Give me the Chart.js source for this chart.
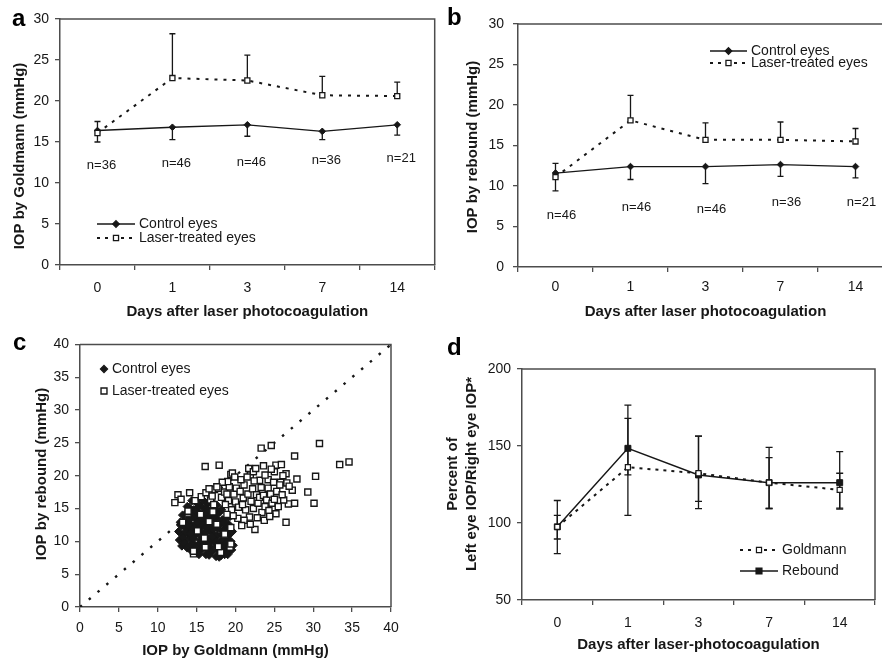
<!DOCTYPE html>
<html><head><meta charset="utf-8">
<script src="https://cdn.jsdelivr.net/npm/chart.js@4.4.0/dist/chart.umd.min.js"></script>
<style>
html,body{margin:0;padding:0;background:#fff;overflow:hidden;width:882px;height:660px;position:relative;}
canvas{position:absolute;}
</style></head><body>
<canvas id="ca" width="440" height="330" style="left:0;top:0"></canvas>
<canvas id="cb" width="460" height="330" style="left:440px;top:0"></canvas>
<canvas id="cc" width="440" height="330" style="left:0;top:330px"></canvas>
<canvas id="cd" width="442" height="330" style="left:440px;top:330px"></canvas>
<script>
// ---------------- data ----------------
const days = ['0', '1', '3', '7', '14'];

// panel a : Goldmann
const goldmannControl   = [16.4, 16.8, 17.1, 16.3, 17.1];
const goldmannControlSD = [1.4, 1.5, 1.4, 1.0, 1.25];
const goldmannLaser     = [16.1, 22.8, 22.5, 20.7, 20.6];
const goldmannLaserSD   = [1.4, 5.4, 3.1, 2.3, 1.7];
const goldmannN         = ['n=36', 'n=46', 'n=46', 'n=36', 'n=21'];
const goldmannNLevel    = [12.1, 12.4, 12.5, 12.8, 13.0];

// panel b : rebound
const reboundControl   = [11.6, 12.4, 12.4, 12.65, 12.4];
const reboundControlSD = [2.2, 1.6, 2.1, 1.45, 1.4];
const reboundLaser     = [11.1, 18.1, 15.7, 15.7, 15.5];
const reboundLaserSD   = [1.7, 3.1, 2.1, 2.2, 1.6];
const reboundN         = ['n=46', 'n=46', 'n=46', 'n=36', 'n=21'];
const reboundNLevel    = [6.4, 7.4, 7.1, 8.0, 8.0];

// panel c : scatter [Goldmann, rebound]
const scatterControl = [
[12.7,11.5],[12.8,10.2],[13.0,12.4],[13.1,9.3],[13.2,11.0],[13.4,13.1],[13.5,10.0],[13.6,12.0],[13.7,14.2],[13.8,9.0],
[13.9,11.3],[14.0,15.2],[14.0,12.8],[14.1,10.5],[14.2,13.8],[14.3,8.6],[14.4,11.8],[14.5,9.7],[14.6,14.8],[14.7,12.4],
[14.8,10.9],[14.9,16.0],[15.0,13.3],[15.0,8.3],[15.1,11.4],[15.2,9.5],[15.3,14.3],[15.4,12.1],[15.5,10.2],[15.6,15.4],
[15.7,8.8],[15.8,13.0],[15.9,11.0],[16.0,9.8],[16.0,14.6],[16.1,12.5],[16.2,8.0],[16.3,10.6],[16.4,15.8],[16.5,13.6],
[16.6,11.7],[16.7,9.2],[16.8,12.9],[16.9,10.1],[17.0,14.2],[17.0,8.5],[17.1,11.2],[17.2,15.0],[17.3,12.3],[17.4,9.7],
[17.5,7.7],[17.5,13.5],[17.6,10.8],[17.7,11.9],[17.8,8.6],[17.9,14.4],[18.0,9.9],[18.0,12.7],[18.1,7.8],[18.2,11.1],
[18.3,13.3],[18.4,8.9],[18.5,10.4],[18.6,12.0],[18.7,9.4],[18.8,11.5],[18.9,8.3],[19.0,10.8],[19.1,12.6],[19.2,9.1],
[19.3,11.2],[19.4,10.0],[19.5,8.7],[15.2,15.7],[14.3,12.0],[16.3,13.9],[15.5,9.0],[16.8,8.4],[14.8,13.8],[17.3,10.3],
[16.1,11.3],[15.4,11.6],[17.8,12.4],[15.9,14.1],[14.6,10.4],[16.6,10.4],[18.3,10.0],[13.9,12.5],[15.6,12.8],[16.9,13.1],
[17.6,9.1],[18.6,8.0],[13.3,10.6],[14.9,9.1],[16.4,9.5],[15.1,12.9],[17.1,11.9],[14.4,14.5],[18.9,9.8],[16.2,15.0],
[13.6,11.4],[15.7,10.7],[17.4,14.8],[16.7,12.2],
[13.2,14.0],[13.8,15.3],[14.4,16.2],[15.0,15.0],[15.8,16.3],[16.5,14.8],[17.0,16.0],[17.6,15.5],[18.2,14.8],[18.8,13.5],
[19.3,13.8],[14.1,13.3],[14.9,14.6],[16.0,13.5],[17.3,13.9],[18.5,12.8],[19.6,11.5],[19.7,9.4],[12.9,12.9],[13.4,9.7],
[14.0,9.3],[15.3,8.0],[16.6,7.9],[17.9,7.6],[19.0,8.0],[16.2,12.0],[17.0,10.7],[15.7,13.6],[14.2,11.2],[18.4,11.6]
];
const scatterLaser = [
[23.3,24.2],[24.6,24.6],[30.8,24.9],[27.6,23.0],[33.4,21.7],[34.6,22.1],[16.1,21.4],[17.9,21.6],[23.6,21.5],[25.2,21.6],
[25.9,21.7],[21.7,21.1],[19.4,20.2],[19.6,20.4],[26.5,20.3],[30.3,19.9],[24.2,19.4],[27.9,19.5],[21.9,20.1],[23.1,19.3],
[29.3,17.5],[30.1,15.8],[27.6,15.8],[26.8,15.7],[26.5,12.9],[22.5,11.8],[27.3,17.8],[26.6,18.9],[26.9,18.4],[25.8,19.0],
[24.8,15.1],[25.2,14.2],[26.2,16.3],[12.6,17.1],[13.0,16.4],[12.2,15.9],[14.1,17.4],[13.2,12.9],[13.9,14.3],[14.6,8.1],
[19.3,9.1],[14.8,16.2],[15.6,16.8],[16.2,17.4],[16.8,16.3],[17.3,17.9],[17.8,18.1],[18.2,16.7],[18.6,17.5],
[19.1,16.2],[19.2,18.3],[19.8,17.2],[20.1,18.1],[20.0,16.0],[20.4,15.2],[20.6,17.6],[21.0,16.6],[21.1,18.6],[21.3,14.8],
[21.6,17.2],[21.8,13.7],[22.0,16.1],[22.2,18.0],[22.3,15.0],[22.4,19.2],[22.7,17.1],[22.9,15.8],[23.1,16.7],[23.3,18.2],
[23.4,14.4],[23.6,17.0],[23.8,15.3],[24.0,16.3],[24.2,18.1],[24.3,14.7],[24.5,17.2],[24.7,15.8],[24.9,19.0],[25.0,16.4],
[25.3,17.6],[25.5,15.3],[25.7,18.6],[26.0,17.1],[20.3,13.5],[19.5,14.8],[18.7,15.6],[21.1,13.2],[21.9,12.6],[20.8,12.4],
[19.7,13.9],[17.2,15.6],[20.7,19.4],[22.3,20.6],[19.0,19.1],[18.3,19.0],[17.6,18.3],[16.6,18.0],[23.8,20.1],
[25.0,20.6],[26.1,20.0],[24.6,21.0],[22.6,21.1],[21.5,19.8],[18.9,17.2],[20.9,15.6],[22.8,13.6],[23.7,13.2],[17.0,16.9],
[19.9,19.8],[24.4,13.8],[14.6,8.5],[16.1,9.1],[18.1,8.3],[19.4,9.6],
[15.1,11.6],[16.6,13.0],[17.6,12.6],[18.6,11.1],[19.4,12.1],[15.5,14.1],[17.1,14.5],[18.9,14.1],[13.9,14.6],[16.0,10.5],
[17.8,9.2]
];

// panel d : percent left/right IOP
const pctGoldmann     = [97.5, 136.2, 132.3, 126.2, 121.5];
const pctGoldmannLow  = [89.6, 104.9, 114.0, 109.4, 109.0];
const pctGoldmannHigh = [105.0, 167.9, 156.4, 142.4, 132.3];
const pctRebound      = [97.5, 148.5, 131.2, 126.2, 126.2];
const pctReboundLow   = [80.1, 131.2, 109.3, 109.4, 109.7];
const pctReboundHigh  = [114.6, 176.5, 156.4, 149.1, 146.3];

// ---------------- style ----------------
const FONT = "'Liberation Sans', Arial, Helvetica, sans-serif";
const INK = '#171717';
const AXIS = '#4d4d4d';
Chart.defaults.font.family = FONT;
Chart.defaults.color = INK;
Chart.defaults.animation = false;

function drawMarker(ctx, style, x, y, r, fill, lw) {
  ctx.save();
  ctx.setLineDash([]);
  ctx.lineWidth = lw || 1.2;
  ctx.strokeStyle = INK;
  ctx.fillStyle = fill;
  ctx.beginPath();
  if (style === 'diamond') {
    ctx.moveTo(x, y - r); ctx.lineTo(x + r, y); ctx.lineTo(x, y + r); ctx.lineTo(x - r, y); ctx.closePath();
  } else {
    const s = r * Math.SQRT1_2;
    ctx.rect(x - s, y - s, 2 * s, 2 * s);
  }
  ctx.fill(); ctx.stroke();
  ctx.restore();
}
function legendRow(ctx, x0, x1, y, line, mk, text, size) {
  ctx.save();
  if (line) {
    ctx.strokeStyle = INK; ctx.lineWidth = line.width; ctx.setLineDash(line.dash || []);
    ctx.beginPath(); ctx.moveTo(x0, y); ctx.lineTo(x1, y); ctx.stroke();
  }
  if (mk) drawMarker(ctx, mk.style, line ? (x0 + x1) / 2 : x0, y, mk.r, mk.fill, mk.lw);
  ctx.setLineDash([]);
  ctx.fillStyle = INK;
  ctx.font = (size || 14) + 'px ' + FONT;
  ctx.textBaseline = 'middle'; ctx.textAlign = 'left';
  ctx.fillText(text, x1 + (line ? 4 : 8), y);
  ctx.restore();
}
function vTitle(ctx, lines, cx, cy, gap) {
  ctx.save();
  ctx.translate(cx, cy);
  ctx.rotate(-Math.PI / 2);
  ctx.font = 'bold 15px ' + FONT;
  ctx.fillStyle = INK;
  ctx.textAlign = 'center'; ctx.textBaseline = 'middle';
  lines.forEach((t, i) => ctx.fillText(t, 0, i * (gap || 19)));
  ctx.restore();
}
function panelLetter(ctx, t, x, y) {
  ctx.save();
  ctx.font = 'bold 24px ' + FONT;
  ctx.fillStyle = '#000';
  ctx.textAlign = 'left'; ctx.textBaseline = 'alphabetic';
  ctx.fillText(t, x, y);
  ctx.restore();
}

const boxPlugin = {
  id: 'box',
  afterDatasetsDraw(chart) {
    const {ctx, chartArea: a} = chart;
    ctx.save();
    ctx.strokeStyle = AXIS; ctx.lineWidth = 1.5;
    ctx.beginPath();
    ctx.moveTo(a.left, a.top); ctx.lineTo(a.right, a.top); ctx.lineTo(a.right, a.bottom);
    ctx.stroke();
    ctx.restore();
  }
};
const errPlugin = {
  id: 'errbars',
  beforeDatasetsDraw(chart) {
    const {ctx} = chart;
    const y = chart.scales.y;
    chart.data.datasets.forEach((ds, di) => {
      if (!ds.errLow) return;
      const meta = chart.getDatasetMeta(di);
      const cap = ds.capHalf || 3;
      ctx.save();
      ctx.strokeStyle = INK; ctx.lineWidth = 1.3; ctx.setLineDash([]);
      meta.data.forEach((pt, i) => {
        const px = pt.x;
        const lo = ds.errLow[i], hi = ds.errHigh[i], v = ds.data[i];
        const y1 = y.getPixelForValue(lo), y2 = y.getPixelForValue(hi);
        ctx.beginPath();
        ctx.moveTo(px, y1); ctx.lineTo(px, y2);
        if (lo < v) { ctx.moveTo(px - cap, y1); ctx.lineTo(px + cap, y1); }
        if (hi > v) { ctx.moveTo(px - cap, y2); ctx.lineTo(px + cap, y2); }
        ctx.stroke();
      });
      ctx.restore();
    });
  }
};

function catX(title, pad, h) {
  return {
    type: 'category', offset: true,
    grid: {offset: true, drawOnChartArea: false, drawTicks: true, tickLength: 5, color: AXIS, lineWidth: 1.3},
    border: {display: true, color: AXIS, width: 1.5},
    ticks: {font: {size: 14}, color: INK, padding: pad, maxRotation: 0, autoSkip: false},
    title: {display: true, text: title, font: {size: 15, weight: 'bold'}, color: INK, padding: {top: 0, bottom: 0}},
    afterFit: s => { s.height = h; }
  };
}
function linY(min, max, step, pad, w) {
  return {
    type: 'linear', min, max,
    grid: {drawOnChartArea: false, drawTicks: true, tickLength: 5, color: AXIS, lineWidth: 1.3},
    border: {display: true, color: AXIS, width: 1.5},
    ticks: {stepSize: step, font: {size: 14}, color: INK, padding: pad},
    afterFit: s => { s.width = w; }
  };
}
const baseOpts = {responsive: false, animation: false, plugins: {legend: {display: false}, tooltip: {enabled: false}}};

const ctrlStyle = {borderColor: INK, borderWidth: 1.3, pointStyle: 'rectRot', pointRadius: 3.3,
  pointBackgroundColor: INK, pointBorderColor: INK, pointBorderWidth: 1, tension: 0, capHalf: 3};
const laserStyle = {borderColor: INK, borderWidth: 2, borderDash: [3, 6], pointStyle: 'rect', pointRadius: 3.6,
  pointBackgroundColor: '#fff', pointBorderColor: INK, pointBorderWidth: 1.3, tension: 0, capHalf: 3};

// ---------------- panel a ----------------
new Chart(document.getElementById('ca'), {
  type: 'line',
  data: {labels: days, datasets: [
    Object.assign({label: 'Laser-treated eyes', data: goldmannLaser,
      errLow: goldmannLaser.slice(), errHigh: goldmannLaser.map((v, i) => v + goldmannLaserSD[i])}, laserStyle),
    Object.assign({label: 'Control eyes', data: goldmannControl,
      errLow: goldmannControl.map((v, i) => v - goldmannControlSD[i]), errHigh: goldmannControl.slice()}, ctrlStyle)
  ]},
  options: Object.assign({}, baseOpts, {
    layout: {padding: {top: 19, right: 5, bottom: 9, left: 0}},
    scales: {x: catX('Days after laser photocoagulation', 10, 56), y: linY(0, 30, 5, 6, 60)}
  }),
  plugins: [errPlugin, boxPlugin, {
    id: 'extrasA',
    afterDraw(chart) {
      const {ctx} = chart; const x = chart.scales.x, y = chart.scales.y;
      panelLetter(ctx, 'a', 12, 26);
      vTitle(ctx, ['IOP by Goldmann (mmHg)'], 20, 156);
      ctx.save(); ctx.font = '13px ' + FONT; ctx.fillStyle = INK; ctx.textAlign = 'center'; ctx.textBaseline = 'middle';
      goldmannN.forEach((t, i) => ctx.fillText(t, x.getPixelForValue(i) + 4, y.getPixelForValue(goldmannNLevel[i])));
      ctx.restore();
      legendRow(ctx, 97, 135, 224, {width: 1.3}, {style: 'diamond', r: 3.3, fill: INK}, 'Control eyes');
      legendRow(ctx, 97, 135, 238, {width: 2, dash: [3, 5]}, {style: 'square', r: 3.6, fill: '#fff', lw: 1.3}, 'Laser-treated eyes');
    }
  }]
});

// ---------------- panel b ----------------
new Chart(document.getElementById('cb'), {
  type: 'line',
  data: {labels: days, datasets: [
    Object.assign({label: 'Laser-treated eyes', data: reboundLaser,
      errLow: reboundLaser.slice(), errHigh: reboundLaser.map((v, i) => v + reboundLaserSD[i])}, laserStyle),
    Object.assign({label: 'Control eyes', data: reboundControl,
      errLow: reboundControl.map((v, i) => v - reboundControlSD[i]), errHigh: reboundControl.slice()}, ctrlStyle)
  ]},
  options: Object.assign({}, baseOpts, {
    layout: {padding: {top: 24, right: 7, bottom: 9, left: 0}},
    scales: {x: catX('Days after laser photocoagulation', 7, 54), y: linY(0, 30, 5, 9, 78)}
  }),
  plugins: [errPlugin, boxPlugin, {
    id: 'extrasB',
    afterDraw(chart) {
      const {ctx} = chart; const x = chart.scales.x, y = chart.scales.y;
      panelLetter(ctx, 'b', 7, 25);
      vTitle(ctx, ['IOP by rebound (mmHg)'], 33, 147);
      ctx.save(); ctx.font = '13px ' + FONT; ctx.fillStyle = INK; ctx.textAlign = 'center'; ctx.textBaseline = 'middle';
      reboundN.forEach((t, i) => ctx.fillText(t, x.getPixelForValue(i) + 6, y.getPixelForValue(reboundNLevel[i])));
      ctx.restore();
      legendRow(ctx, 270, 307, 51, {width: 1.3}, {style: 'diamond', r: 3.3, fill: INK}, 'Control eyes');
      legendRow(ctx, 270, 307, 63, {width: 2, dash: [3, 5]}, {style: 'square', r: 3.6, fill: '#fff', lw: 1.3}, 'Laser-treated eyes');
    }
  }]
});

// ---------------- panel c ----------------
const scatterMin = 0, scatterMax = 40;
new Chart(document.getElementById('cc'), {
  type: 'scatter',
  data: {datasets: [
    {label: 'Laser-treated eyes', data: scatterLaser.map(p => ({x: p[0], y: p[1]})), order: 0,
      pointStyle: 'rect', pointRadius: 4.3, pointBackgroundColor: '#fff', pointBorderColor: INK, pointBorderWidth: 1.4},
    {label: 'Control eyes', data: scatterControl.map(p => ({x: p[0], y: p[1]})), order: 1,
      pointStyle: 'rectRot', pointRadius: 4.2, pointBackgroundColor: INK, pointBorderColor: INK, pointBorderWidth: 1},
    {label: 'identity', data: [scatterMin, scatterMax].map(v => ({x: v, y: v})), order: 2, showLine: true,
      borderColor: INK, borderWidth: 2.4, borderDash: [2.5, 9], pointRadius: 1.8, pointBackgroundColor: INK, pointBorderWidth: 0}
  ]},
  options: Object.assign({}, baseOpts, {
    layout: {padding: {top: 12, right: 49, bottom: 0, left: 0}},
    scales: {
      x: {type: 'linear', min: scatterMin, max: scatterMax,
        grid: {drawOnChartArea: false, tickLength: 5, color: AXIS, lineWidth: 1.3},
        border: {display: true, color: AXIS, width: 1.5},
        ticks: {stepSize: 5, font: {size: 14}, color: INK, padding: 8, maxRotation: 0},
        title: {display: true, text: 'IOP by Goldmann (mmHg)', font: {size: 15, weight: 'bold'}, color: INK, padding: {top: 0, bottom: 0}},
        afterFit: s => { s.height = 53; }},
      y: linY(scatterMin, scatterMax, 5, 6, 80)
    }
  }),
  plugins: [boxPlugin, {
    id: 'extrasC',
    afterDraw(chart) {
      const {ctx} = chart;
      panelLetter(ctx, 'c', 13, 20);
      vTitle(ctx, ['IOP by rebound (mmHg)'], 42, 144);
      legendRow(ctx, 104, 104, 39, null, {style: 'diamond', r: 3.6, fill: INK}, 'Control eyes');
      legendRow(ctx, 104, 104, 61, null, {style: 'square', r: 4.2, fill: '#fff', lw: 1.4}, 'Laser-treated eyes');
    }
  }]
});

// ---------------- panel d ----------------
new Chart(document.getElementById('cd'), {
  type: 'line',
  data: {labels: days, datasets: [
    {label: 'Goldmann', data: pctGoldmann, errLow: pctGoldmannLow, errHigh: pctGoldmannHigh, capHalf: 3.5,
      borderColor: INK, borderWidth: 2, borderDash: [3, 5], tension: 0,
      pointStyle: 'rect', pointRadius: 3.6, pointBackgroundColor: '#fff', pointBorderColor: INK, pointBorderWidth: 1.2},
    {label: 'Rebound', data: pctRebound, errLow: pctReboundLow, errHigh: pctReboundHigh, capHalf: 3.5,
      borderColor: INK, borderWidth: 1.5, tension: 0,
      pointStyle: 'rect', pointRadius: 4.2, pointBackgroundColor: INK, pointBorderColor: INK, pointBorderWidth: 1}
  ]},
  options: Object.assign({}, baseOpts, {
    layout: {padding: {top: 39, right: 7, bottom: 6, left: 0}},
    scales: {x: catX('Days after laser-photocoagulation', 10, 54), y: linY(50, 200, 50, 6, 82)}
  }),
  plugins: [errPlugin, boxPlugin, {
    id: 'extrasD',
    afterDraw(chart) {
      const {ctx} = chart;
      panelLetter(ctx, 'd', 7, 25);
      vTitle(ctx, ['Percent of', 'Left eye IOP/Right eye IOP*'], 13, 144, 19);
      legendRow(ctx, 300, 338, 220, {width: 2, dash: [3, 5]}, {style: 'square', r: 3.6, fill: '#fff', lw: 1.2}, 'Goldmann');
      legendRow(ctx, 300, 338, 241, {width: 1.5}, {style: 'square', r: 4.2, fill: INK}, 'Rebound');
    }
  }]
});
</script>
</body></html>
